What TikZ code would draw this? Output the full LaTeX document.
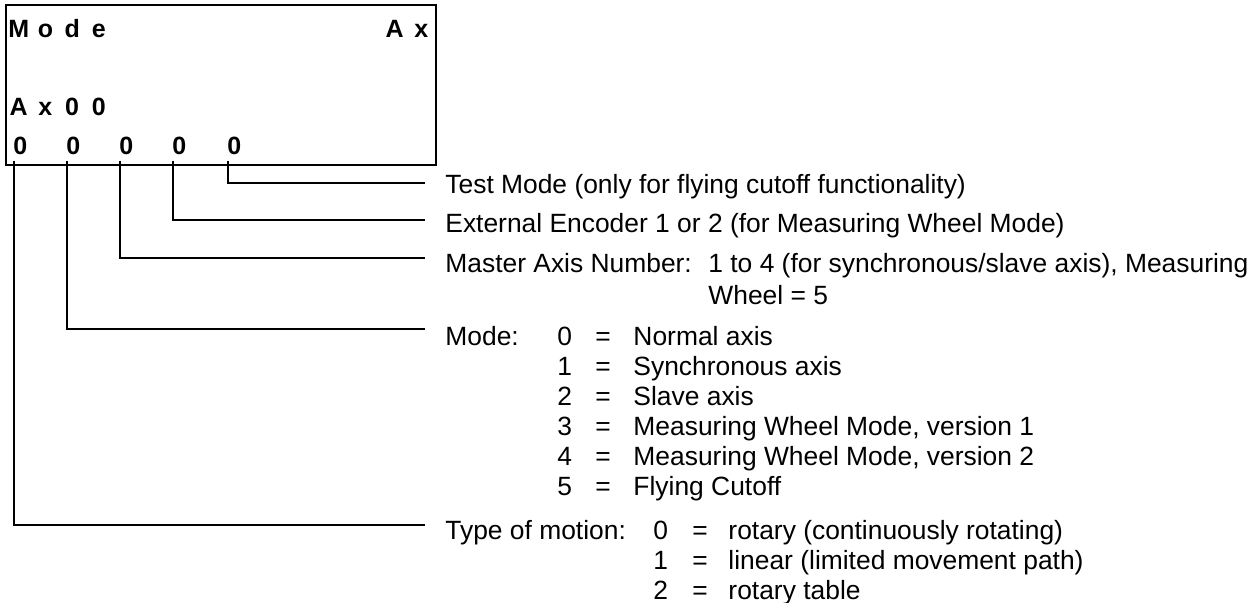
\documentclass[tikz,border=0pt]{standalone}
\usepackage{fontspec}
\setmainfont{Liberation Sans}
\usepackage{tikz}
\usetikzlibrary{positioning}
\newcommand{\cell}[1]{\makebox[13.35pt]{#1}}
\tikzset{
  lcd/.style={font=\fontsize{12.5}{14}\selectfont\bfseries,inner sep=0pt},
  desc/.style={inner sep=0pt,anchor=base west},
  wire/.style={line width=0.75pt}
}

\begin{document}
\begin{tikzpicture}[x=0.5pt,y=-0.5pt,font=\fontsize{13.2}{15}\selectfont]
  \useasboundingbox (0,0) rectangle (1256,602);
  % ---- display box ----
  \draw[line width=1pt] (6,5) rectangle (436,165);
  \node[lcd,anchor=base west] (title) at (5,37) {\cell{M}\cell{o}\cell{d}\cell{e}};
  \node[lcd,anchor=base east] (axis) at (435,37) {\cell{A}\cell{x}};
  \node[lcd,anchor=base west] (axnr) at (5,115) {\cell{A}\cell{x}\cell{0}\cell{0}};
  \node[lcd,anchor=base west] (z1) at (13,154) {0};
  \node[lcd,anchor=base west] (z2) at (66,154) {0};
  \node[lcd,anchor=base west] (z3) at (119,154) {0};
  \node[lcd,anchor=base west] (z4) at (172,154) {0};
  \node[lcd,anchor=base west] (z5) at (227,154) {0};
  % ---- descriptions ----
  \node[desc] (test) at (445,193) {Test Mode (only for flying cutoff functionality)};
  \node[desc] (enc) at (445,232) {External Encoder 1 or 2 (for Measuring Wheel Mode)};
  \node[desc] (master) at (445,272) {\begin{tabular}[t]{@{}p{131.5pt}@{}l@{}}
      Master Axis Number: & 1 to 4 (for synchronous/slave axis), Measuring\\[1pt]
      & Wheel = 5\end{tabular}};
  \node[desc] (mode) at (445,345) {\begin{tabular}[t]{@{}p{56pt}@{}l@{\hspace{11.7pt}}l@{\hspace{11.3pt}}l@{}}
      Mode: & 0 & = & Normal axis\\
      & 1 & = & Synchronous axis\\
      & 2 & = & Slave axis\\
      & 3 & = & Measuring Wheel Mode, version 1\\
      & 4 & = & Measuring Wheel Mode, version 2\\
      & 5 & = & Flying Cutoff\end{tabular}};
  \node[desc] (motion) at (445,539) {\begin{tabular}[t]{@{}p{104pt}@{}l@{\hspace{12.2pt}}l@{\hspace{10.3pt}}l@{}}
      Type of motion: & 0 & = & rotary (continuously rotating)\\
      & 1 & = & linear (limited movement path)\\
      & 2 & = & rotary table\end{tabular}};
  % ---- leader lines ----
  \coordinate (testE) at (425,183);
  \coordinate (encE) at (425,220);
  \coordinate (masterE) at (425,258);
  \coordinate (modeE) at (425,329);
  \coordinate (motionE) at (425,525);
  \draw[wire] ([xshift=0.5pt,yshift=-3pt]z5.south west) |- (testE);
  \draw[wire] ([xshift=0.5pt,yshift=-3pt]z4.south west) |- (encE);
  \draw[wire] ([xshift=0.5pt,yshift=-3pt]z3.south west) |- (masterE);
  \draw[wire] ([xshift=0.5pt,yshift=-3pt]z2.south west) |- (modeE);
  \draw[wire] ([xshift=0.5pt,yshift=-3pt]z1.south west) |- (motionE);
\end{tikzpicture}
\end{document}
